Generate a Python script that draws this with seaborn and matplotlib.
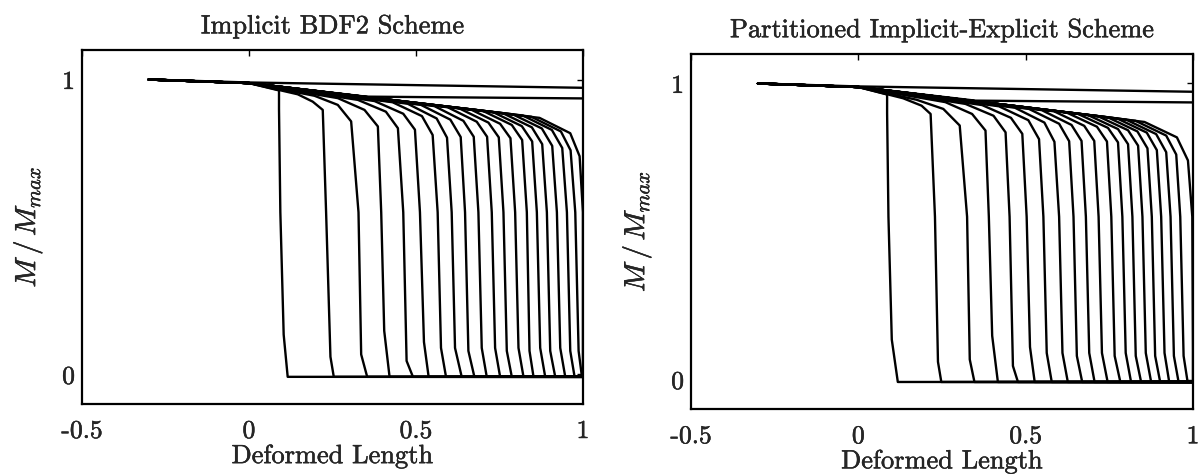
import numpy as np
import pandas as pd
import matplotlib
matplotlib.use('Agg')
import matplotlib.pyplot as plt
import matplotlib.patheffects as pe
import seaborn as sns

# vertices (x = deformed length, y = M/Mmax)
start_x = [-0.3, 0.0]
start_y = [1.0, 0.988]
mid_y = 0.55
floor_y = -0.008

# shared shape of the upper corner (same in both panels)
depart_y = [0.963, 0.950, 0.945, 0.937, 0.931, 0.927, 0.923, 0.918, 0.914, 0.910,
            0.906, 0.902, 0.898, 0.894, 0.890, 0.886, 0.882, 0.878, 0.874, 0.870]
bend_y = [0.963, 0.925, 0.914, 0.897, 0.891, 0.884, 0.876, 0.868, 0.864, 0.860,
          0.857, 0.854, 0.850, 0.846, 0.842, 0.838, 0.834, 0.829, 0.824, 0.818]
knee_y = [0.900, 0.897, 0.858, 0.841, 0.835, 0.830, 0.812, 0.803, 0.805, 0.806,
          0.806, 0.804, 0.801, 0.795, 0.790, 0.781, 0.775, 0.768, 0.760, 0.740]
kink_y = [0.135, 0.060, 0.068, 0.148, 0.046, 0.110, 0.090, 0.090, 0.080, 0.090,
          0.090, 0.080, 0.090, 0.080, 0.090, 0.080, 0.090, 0.080, 0.080, 0.100]

# left panel: implicit BDF2
bdf_depart_x = [0.090, 0.146, 0.196, 0.266, 0.326, 0.376, 0.430, 0.475, 0.515, 0.555,
                0.595, 0.630, 0.665, 0.700, 0.730, 0.760, 0.790, 0.820, 0.845, 0.870]
bdf_bend_x = [0.090, 0.191, 0.266, 0.346, 0.410, 0.462, 0.518, 0.562, 0.603, 0.642,
              0.682, 0.717, 0.752, 0.787, 0.817, 0.847, 0.877, 0.907, 0.934, 0.962]
bdf_knee_x = [0.090, 0.221, 0.306, 0.386, 0.446, 0.497, 0.550, 0.593, 0.634, 0.673,
              0.713, 0.748, 0.783, 0.818, 0.848, 0.878, 0.908, 0.938, 0.963, 0.990]
bdf_mid_x = [0.094, 0.231, 0.328, 0.396, 0.462, 0.512, 0.565, 0.607, 0.647, 0.687,
             0.727, 0.762, 0.797, 0.832, 0.862, 0.892, 0.922, 0.952, 0.977, 1.000]
bdf_kink_x = [0.104, 0.244, 0.336, 0.405, 0.472, 0.524, 0.575, 0.617, 0.657, 0.697,
              0.737, 0.772, 0.807, 0.840, 0.872, 0.902, 0.932, 0.962, 0.987, 1.000]
bdf_foot_x = [0.116, 0.254, 0.354, 0.421, 0.491, 0.538, 0.590, 0.637, 0.675, 0.712,
              0.752, 0.787, 0.822, 0.852, 0.887, 0.917, 0.947, 0.975, 0.997, 1.000]

# right panel: partitioned implicit-explicit
imex_depart_x = [0.085, 0.134, 0.174, 0.260, 0.320, 0.370, 0.420, 0.468, 0.510, 0.548,
                 0.585, 0.622, 0.655, 0.685, 0.715, 0.745, 0.773, 0.800, 0.828, 0.855]
imex_bend_x = [0.086, 0.189, 0.254, 0.340, 0.404, 0.456, 0.508, 0.556, 0.600, 0.637,
               0.675, 0.713, 0.746, 0.776, 0.806, 0.834, 0.862, 0.890, 0.920, 0.952]
imex_knee_x = [0.086, 0.216, 0.303, 0.380, 0.440, 0.490, 0.540, 0.586, 0.630, 0.667,
               0.705, 0.743, 0.776, 0.806, 0.836, 0.864, 0.892, 0.920, 0.950, 0.985]
imex_mid_x = [0.090, 0.229, 0.325, 0.390, 0.452, 0.503, 0.553, 0.600, 0.643, 0.680,
              0.718, 0.756, 0.789, 0.819, 0.849, 0.877, 0.905, 0.933, 0.962, 0.998]
imex_kink_x = [0.100, 0.238, 0.333, 0.400, 0.462, 0.513, 0.563, 0.610, 0.653, 0.690,
               0.728, 0.766, 0.799, 0.829, 0.859, 0.887, 0.915, 0.943, 0.972, 1.000]
imex_foot_x = [0.118, 0.248, 0.347, 0.417, 0.477, 0.527, 0.578, 0.626, 0.669, 0.706,
               0.745, 0.783, 0.815, 0.845, 0.875, 0.902, 0.929, 0.957, 0.984, 1.000]

# the two curves that never drop
flat1_x = [-0.3, 0.0, 1.0]
flat1_y = [1.0, 0.990, 0.972]
flat2_x = [-0.3, 0.0, 0.35, 1.0]
flat2_y = [1.0, 0.988, 0.942, 0.936]


def build_frame(depart_x, bend_x, knee_x, mid_x, kink_x, foot_x):
    rows = []
    for i in range(len(mid_x)):
        xs = start_x + [depart_x[i], bend_x[i], knee_x[i], mid_x[i], kink_x[i], foot_x[i], 1.0]
        ys = start_y + [depart_y[i], bend_y[i], knee_y[i], mid_y, kink_y[i], floor_y, floor_y]
        for k, (x, y) in enumerate(zip(xs, ys)):
            rows.append({'curve': i, 'order': k, 'x': x, 'y': y})
    for j, (fx, fy) in enumerate([(flat1_x, flat1_y), (flat2_x, flat2_y)]):
        for k, (x, y) in enumerate(zip(fx, fy)):
            rows.append({'curve': 100 + j, 'order': k, 'x': x, 'y': y})
    return pd.DataFrame(rows)


bdf_df = build_frame(bdf_depart_x, bdf_bend_x, bdf_knee_x, bdf_mid_x, bdf_kink_x, bdf_foot_x)
imex_df = build_frame(imex_depart_x, imex_bend_x, imex_knee_x, imex_mid_x, imex_kink_x, imex_foot_x)

sns.set_style('white')
plt.rcParams['font.family'] = ['cmr10', 'DejaVu Serif']
plt.rcParams['mathtext.fontset'] = 'cm'
plt.rcParams['axes.unicode_minus'] = False

# scanned print looks a little heavier than plain cmr10
ink = [pe.withStroke(linewidth=0.3, foreground='black')]

fig = plt.figure(figsize=(11.98, 4.77), dpi=100)
ax1 = fig.add_axes([0.0684, 0.151, 0.4182, 0.742])
ax2 = fig.add_axes([0.5768, 0.140, 0.4190, 0.745])

panels = [(ax1, bdf_df, 'Implicit BDF2 Scheme'),
          (ax2, imex_df, 'Partitioned Implicit-Explicit Scheme')]

for ax, df, title in panels:
    sns.lineplot(data=df, x='x', y='y', units='curve', estimator=None, sort=False,
                 color='black', linewidth=1.7, legend=False, ax=ax)
    ax.set_xlim(-0.5, 1.0)
    ax.set_ylim(-0.1, 1.1)
    ax.set_xticks([-0.5, 0, 0.5, 1])
    ax.set_xticklabels(['-0.5', '0', '0.5', '1'])
    ax.set_yticks([0, 1])
    ax.set_yticklabels(['0', '1'])
    ax.tick_params(direction='in', top=True, right=True, length=4, width=1,
                   labelsize=18.5, color='black')
    ax.tick_params(axis='x', pad=11)
    ax.tick_params(axis='y', pad=5)
    for sp in ax.spines.values():
        sp.set_visible(True)
        sp.set_linewidth(1.6)
        sp.set_color('black')
    t = ax.set_title(title, fontsize=19, pad=12)
    xl = ax.set_xlabel('Deformed Length', fontsize=19, labelpad=1)
    yl = ax.set_ylabel(r'$M\,/\,M_{max}$', fontsize=21, labelpad=13)
    for txt in [t, xl, yl] + ax.get_xticklabels() + ax.get_yticklabels():
        txt.set_path_effects(ink)

fig.savefig('out.png', dpi=100, facecolor='white')
